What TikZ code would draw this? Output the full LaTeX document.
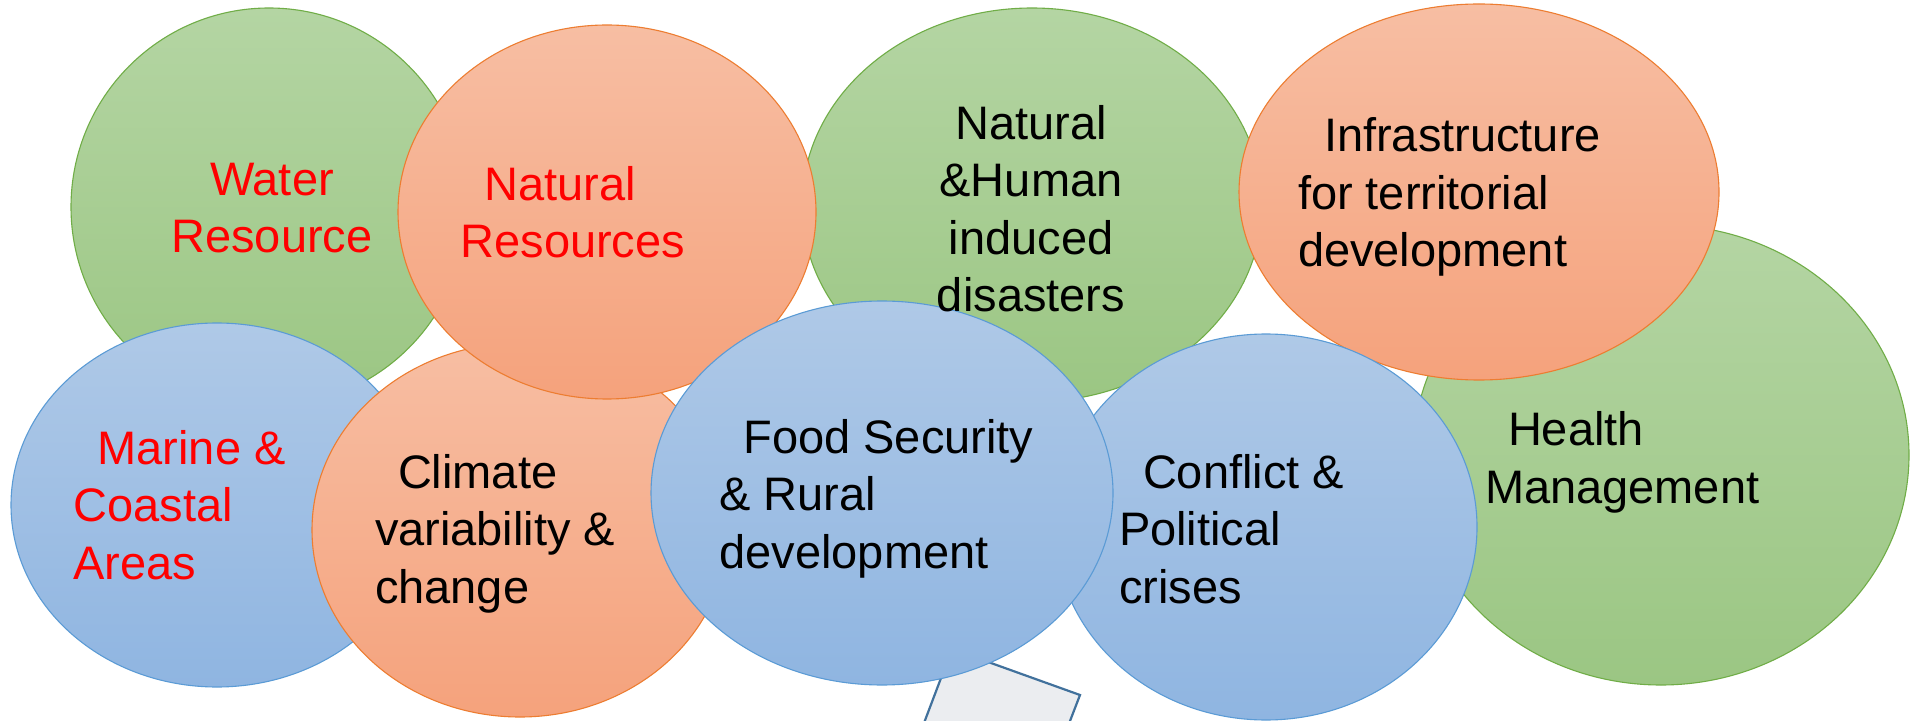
\documentclass[tikz,border=0pt]{standalone}
\usepackage{fontspec}
\setmainfont{Liberation Sans}
\usetikzlibrary{shapes.geometric}
\definecolor{gTop}{HTML}{B4D5A3}
\definecolor{gBot}{HTML}{9BC683}
\definecolor{gLine}{HTML}{70AD47}
\definecolor{oTop}{HTML}{F7BEA3}
\definecolor{oBot}{HTML}{F5A27C}
\definecolor{oLine}{HTML}{ED7D31}
\definecolor{bTop}{HTML}{AFC9E7}
\definecolor{bBot}{HTML}{8FB5E1}
\definecolor{bLine}{HTML}{5B9BD5}
\definecolor{pFill}{HTML}{EBEDF0}
\definecolor{pLine}{HTML}{41719C}
\tikzset{
  blob/.style={ellipse, inner sep=0pt, outer sep=0pt, line width=0.55pt},
  greenblob/.style={blob, draw=gLine, top color=gTop, bottom color=gBot},
  orangeblob/.style={blob, draw=oLine, top color=oTop, bottom color=oBot},
  blueblob/.style={blob, draw=bLine, top color=bTop, bottom color=bBot},
  lbl/.style={inner sep=0pt, outer sep=0pt, font=\fontsize{23.5pt}{28.75pt}\selectfont},
  lleft/.style={lbl, anchor=base west, align=left},
  lmid/.style={lbl, anchor=base, align=center},
  redtext/.style={text=red},
}
\begin{document}
\begin{tikzpicture}[x=0.5pt,y=-0.5pt]
\clip (0,0) rectangle (1921,721);
\fill[white] (0,0) rectangle (1921,721);
% pointer shape behind the bubbles
\draw[pLine, line width=1.1pt, fill=pFill, line join=miter]
  (952,649) -- (1080,695) -- (1055,760) -- (910,760) -- cycle;
% bubbles (back to front)
\node[greenblob, minimum width=198pt, minimum height=199pt] (water) at (269,207) {};
\node[blueblob, minimum width=206pt, minimum height=182pt] (marine) at (217,505) {};
\node[orangeblob, minimum width=208pt, minimum height=187pt] (climate) at (520,530) {};
\node[greenblob, minimum width=230pt, minimum height=197pt] (disaster) at (1032,205) {};
\node[greenblob, minimum width=248pt, minimum height=230pt] (health) at (1661,455) {};
\node[orangeblob, minimum width=240pt, minimum height=188pt] (infra) at (1479,192) {};
\node[blueblob, minimum width=211pt, minimum height=193pt] (conflict) at (1266,527) {};
\node[orangeblob, minimum width=209pt, minimum height=187pt] (natres) at (607,212) {};
\node[blueblob, minimum width=231pt, minimum height=192pt] (food) at (882,493) {};
% labels (anchored at the baseline of the last line)
\node[lmid, redtext] (tWater) at (272,253) {Water\\Resource};
\node[lleft, redtext] (tNatres) at (460.5,258) {\hspace*{12pt}Natural\\Resources};
\node[lmid] (tDisaster) at (1031,312) {Natural\\\&Human\\induced\\disasters};
\node[lleft] (tInfra) at (1298,267) {\hspace*{13pt}Infrastructure\\for territorial\\development};
\node[lleft, redtext] (tMarine) at (73.5,579) {\hspace*{12pt}Marine \&\\Coastal\\Areas};
\node[lleft] (tClimate) at (375,603) {\hspace*{11.5pt}Climate\\variability \&\\change};
\node[lleft] (tFood) at (719.5,568) {\hspace*{12pt}Food Security\\\& Rural\\development};
\node[lleft] (tConflict) at (1119,603) {\hspace*{12pt}Conflict \&\\Political\\crises};
\node[lleft] (tHealth) at (1485,503) {\hspace*{11.5pt}Health\\Management};
\end{tikzpicture}
\end{document}
